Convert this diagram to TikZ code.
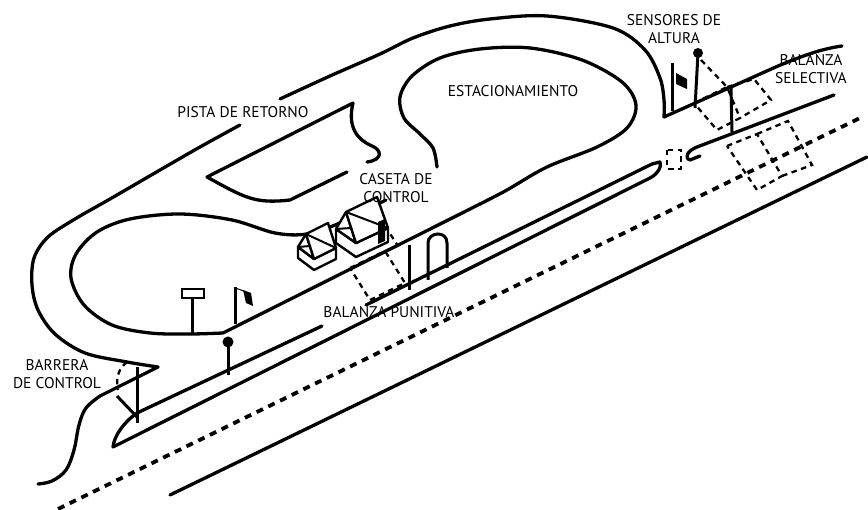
\documentclass[tikz,border=0pt]{standalone}
\usepackage{fontspec}
\setmainfont{PT Sans}
\begin{document}
\begin{tikzpicture}[x=1pt,y=-1pt,
  road/.style={line width=3.3pt,line cap=round,line join=round},
  centerline/.style={line width=3.8pt,dash pattern=on 7pt off 6pt},
  plate/.style={line width=2.3pt,dash pattern=on 5.5pt off 4.5pt},
  post/.style={line width=3pt},
  housel/.style={line width=2.4pt,line join=round,fill=white},
  lbl/.style={font=\fontsize{15.5}{18}\selectfont,align=center,text=black,inner sep=0pt}]
\useasboundingbox (0,0) rectangle (868,510);

% ---------- highway ----------
\draw[road] (170,495) -- (867,157);
\draw[centerline] (58,509) -- (862,117);

% median island between the two lanes
\draw[road] (322,326) -- (137,413) .. controls (124,422) and (114,436) .. (113,447) -- (650,178)
  .. controls (658,174) and (662,166) .. (660,162) -- (652,164);
\draw[road] (366,305) -- (652,164);

% ---------- inner loop and parking ----------
\draw[road] (223,333) -- (480,204);
\draw[road] plot[smooth,tension=0.55] coordinates {(480,204) (507,190) (547,167) (597,147) (627,128) (636,105)
  (622,82) (582,60) (530,48) (480,49) (440,58) (412,76) (400,97) (404,118) (420,134) (433,148) (437,167)};
\draw[road] plot[smooth,tension=0.55] coordinates {(223,333) (190,334) (150,333) (112,325) (84,305) (71,278)
  (76,254) (97,232) (130,219) (180,214) (232,220) (275,233) (307,234) (340,223) (370,208) (386,200)};

% ---------- outer loop ----------
\draw[road] plot[smooth,tension=0.55] coordinates {(158,367) (127,362) (85,353) (55,334) (38,310) (32,285)
  (34,258) (48,237) (75,219) (110,199) (160,170) (200,147) (240,125)};
\draw[road] plot[smooth,tension=0.55] coordinates {(280,99) (330,76) (380,54) (413,38) (450,26) (490,19)
  (547,16) (613,28) (645,50) (660,78) (664,100) (664,117)};
\draw[road] (664,117) -- (778,66) .. controls (800,57) and (820,49) .. (842,46);

% entry ramp
\draw[road] (158,367) -- (100,396);
\draw[road] plot[smooth,tension=0.6] coordinates {(100,396) (86,408) (79,425) (74,450) (66,470) (52,481) (38,484)};

% return track island
\draw[road] (367,162) .. controls (383,160) and (382,150) .. (372,146)
  .. controls (358,140) and (347,128) .. (353,103) -- (207,177)
  .. controls (245,198) and (255,204) .. (290,200) -- (347,172);

% selective scale lane
\draw[road] (834,95) -- (697,147) .. controls (687,151) and (684,158) .. (690,160) -- (700,156);

% ---------- scale plates ----------
% punitive scale
\draw[plate] (350,268) -- (385,251) -- (405,283) -- (370,300) -- cycle;
\draw[plate] (385,226) -- (398,246);
% selective scale
\draw[plate] (694,103) -- (727,87) -- (740,118) -- (717,130) -- cycle;
\draw[plate] (727,87) -- (754,79) -- (771,100) -- (740,118);
\draw[plate] (701,60) -- (727,87);
\draw[plate] (727,146) -- (757,134) -- (782,176) -- (757,190) -- cycle;
\draw[plate] (757,134) -- (788,121) -- (812,165) -- (782,176);
\draw[plate] (667,150) rectangle (681,169);

% ---------- posts ----------
% barrier
\draw[post] (137,367) -- (137,423);
\draw[post] (117,396) -- (137,417);
\draw[plate] (127,362) .. controls (117,370) and (116,380) .. (118,390);
% sign
\draw[post] (192,298) -- (192,333);
\draw[line width=2.8pt] (182,289) rectangle (204,298);
% flag on the inner loop
\draw[post] (235,287) -- (235,324);
\draw[line width=1pt] (235,288) -- (244,291);
\fill (243,290) -- (251,293) -- (253,306) -- (246,303) -- cycle;
% lamp post
\fill (228,342) circle (5.5);
\draw[post] (228,342) -- (228,375);
% gate posts at the punitive scale
\draw[post] (409,245) -- (409,290);
\draw[post] (428,280) -- (428,243) .. controls (428,232) and (447,230) .. (447,243) -- (447,268);
% height sensors
\draw[post] (672,63) -- (672,111);
\fill (676,73) -- (687,79) -- (687,89) -- (676,84) -- cycle;
\fill (698,53) circle (5);
\draw[post] (698,53) -- (695,108);
\draw[post] (731,86) -- (732,132);

% ---------- control booths ----------
% smaller booth
\draw[housel] (298,258) -- (314,270) -- (336,259) -- (336,248) -- (314,259) -- (298,247) -- cycle;
\draw[housel] (298,247) -- (306,234) -- (314,259) -- cycle;
\draw[housel] (314,259) -- (306,234) -- (328,223) -- (336,248) -- cycle;
\draw[line width=2pt] (298,247) -- (310,246) (306,234) -- (336,248);
% larger booth
\draw[housel] (336,243) -- (356,257) -- (388,242) -- (388,228) -- (356,243) -- (336,229) -- cycle;
\draw[housel] (336,229) -- (346,212) -- (356,243) -- cycle;
\draw[housel] (356,243) -- (346,212) -- (377,197) -- (388,228) -- cycle;
\draw[line width=2pt] (336,229) -- (351,228) (346,212) -- (388,228);
\fill (378,222) -- (385,219) -- (385,241) -- (378,244) -- cycle;

% ---------- labels ----------
\node[lbl] (pista) at (243,112) {PISTA DE RETORNO};
\node[lbl] (estac) at (513,91) {ESTACIONAMIENTO};
\node[lbl] (caseta) at (396,188) {CASETA DE\\CONTROL};
\node[lbl] (sensor) at (674,29) {SENSORES DE\\ALTURA};
\node[lbl] (selec) at (811,69) {BALANZA\\SELECTIVA};
\node[lbl] (punit) at (389,312) {BALANZA PUNITIVA};
\node[lbl] (barrera) at (57,374) {BARRERA\\DE CONTROL};
\end{tikzpicture}
\end{document}
